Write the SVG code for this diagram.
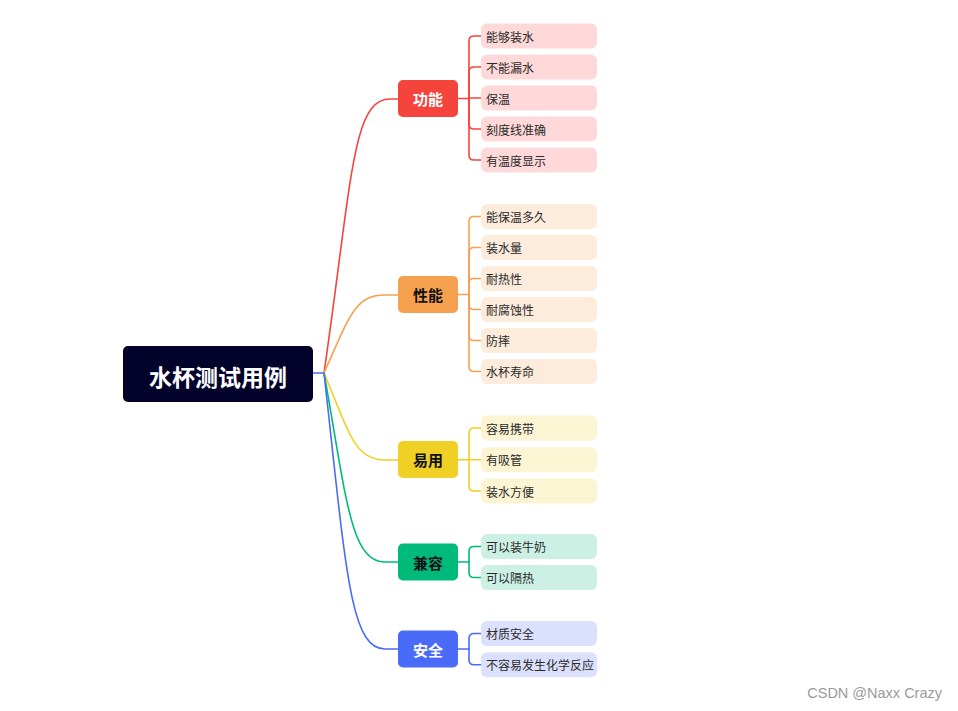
<svg xmlns="http://www.w3.org/2000/svg" width="958" height="711" viewBox="0 0 958 711">
<style>
  .cn{fill:none;stroke-width:1.6;stroke-linecap:round;stroke-linejoin:round}
  .root{fill:#02022b}
  .rt{font-family:"Noto Sans CJK SC","Noto Sans",sans-serif;font-weight:bold;font-size:23px;fill:#ffffff}
  .bt{font-family:"Noto Sans CJK SC","Noto Sans",sans-serif;font-weight:bold;font-size:15px}
  .lt{font-family:"Noto Sans CJK SC","Noto Sans",sans-serif;font-size:12px;fill:#2a2a2a}
  .wm{font-family:"Liberation Sans",Arial,sans-serif;font-size:14.5px;fill:#9a9a9a}
  .r{stroke:#f5443c}.o{stroke:#f6a14f}.y{stroke:#f0d024}.g{stroke:#00ba7b}.b{stroke:#4a6bf8}
</style>
<rect width="958" height="711" fill="#ffffff"/>
<g id="connectors">
  <path class="cn b" d="M313,373 H324"/>
  <path class="cn r" d="M324,373 C352,180 352,99 390,99 H398"/>
  <path class="cn o" d="M324,373 C350,315 355,295 385,295 H398"/>
  <path class="cn y" d="M324,373 C350,435 355,460 385,460 H398"/>
  <path class="cn g" d="M324,373 C346,495 350,562 385,562 H398"/>
  <path class="cn b" d="M324,373 C346,570 350,649 385,649 H398"/>
  <g class="cn r">
    <path d="M458,98.5 H469"/>
    <path d="M469,98.5 V41 Q469,36 474,36 H481"/>
    <path d="M469,98.5 V72 Q469,67 474,67 H481"/>
    <path d="M469,98 H481"/>
    <path d="M469,98.5 V124 Q469,129 474,129 H481"/>
    <path d="M469,98.5 V155 Q469,160 474,160 H481"/>
  </g>
  <g class="cn o">
    <path d="M458,294.5 H469"/>
    <path d="M469,294.5 V221.5 Q469,216.5 474,216.5 H481"/>
    <path d="M469,294.5 V252.5 Q469,247.5 474,247.5 H481"/>
    <path d="M469,294.5 V283.5 Q469,278.5 474,278.5 H481"/>
    <path d="M469,294.5 V304.5 Q469,309.5 474,309.5 H481"/>
    <path d="M469,294.5 V335.5 Q469,340.5 474,340.5 H481"/>
    <path d="M469,294.5 V366.5 Q469,371.5 474,371.5 H481"/>
  </g>
  <g class="cn y">
    <path d="M458,459.7 H469"/>
    <path d="M469,459.7 V433 Q469,428 474,428 H481"/>
    <path d="M469,459.7 H481"/>
    <path d="M469,459.7 V486 Q469,491 474,491 H481"/>
  </g>
  <g class="cn g">
    <path d="M458,562 H469"/>
    <path d="M469,562 V551.5 Q469,546.5 474,546.5 H481"/>
    <path d="M469,562 V572.5 Q469,577.5 474,577.5 H481"/>
  </g>
  <g class="cn b">
    <path d="M458,649 H469"/>
    <path d="M469,649 V638.5 Q469,633.5 474,633.5 H481"/>
    <path d="M469,649 V659.8 Q469,664.8 474,664.8 H481"/>
  </g>
</g>
<g id="root">
  <rect class="root" x="123" y="346" width="190" height="56" rx="5"/>
  <text class="rt" x="218" y="376" text-anchor="middle" dominant-baseline="central">水杯测试用例</text>
</g>
<g id="b-gongneng">
  <rect x="398" y="80" width="60" height="37" rx="5" fill="#f5443c"/>
  <text class="bt" x="428" y="98.5" text-anchor="middle" dominant-baseline="central" fill="#ffffff">功能</text>
</g>
<g id="b-xingneng">
  <rect x="398" y="276" width="60" height="37" rx="5" fill="#f6a14f"/>
  <text class="bt" x="428" y="294.5" text-anchor="middle" dominant-baseline="central" fill="#111111">性能</text>
</g>
<g id="b-yiyong">
  <rect x="398" y="441" width="60" height="37" rx="5" fill="#f0d024"/>
  <text class="bt" x="428" y="459.7" text-anchor="middle" dominant-baseline="central" fill="#111111">易用</text>
</g>
<g id="b-jianrong">
  <rect x="398" y="543.5" width="60" height="37" rx="5" fill="#00ba7b"/>
  <text class="bt" x="428" y="562" text-anchor="middle" dominant-baseline="central" fill="#111111">兼容</text>
</g>
<g id="b-anquan">
  <rect x="398" y="630.5" width="60" height="37" rx="5" fill="#4a6bf8"/>
  <text class="bt" x="428" y="649" text-anchor="middle" dominant-baseline="central" fill="#ffffff">安全</text>
</g>
<g id="leaves-gongneng" fill="#ffd9d9">
  <g id="l1"><rect x="481" y="23.5" width="116" height="25" rx="6"/><text class="lt" x="486" y="36" dominant-baseline="central">能够装水</text></g>
  <g id="l2"><rect x="481" y="54.5" width="116" height="25" rx="6"/><text class="lt" x="486" y="67" dominant-baseline="central">不能漏水</text></g>
  <g id="l3"><rect x="481" y="85.5" width="116" height="25" rx="6"/><text class="lt" x="486" y="98" dominant-baseline="central">保温</text></g>
  <g id="l4"><rect x="481" y="116.5" width="116" height="25" rx="6"/><text class="lt" x="486" y="129" dominant-baseline="central">刻度线准确</text></g>
  <g id="l5"><rect x="481" y="147.5" width="116" height="25" rx="6"/><text class="lt" x="486" y="160" dominant-baseline="central">有温度显示</text></g>
</g>
<g id="leaves-xingneng" fill="#fdebdc">
  <g id="l6"><rect x="481" y="204" width="116" height="25" rx="6"/><text class="lt" x="486" y="216.5" dominant-baseline="central">能保温多久</text></g>
  <g id="l7"><rect x="481" y="235" width="116" height="25" rx="6"/><text class="lt" x="486" y="247.5" dominant-baseline="central">装水量</text></g>
  <g id="l8"><rect x="481" y="266" width="116" height="25" rx="6"/><text class="lt" x="486" y="278.5" dominant-baseline="central">耐热性</text></g>
  <g id="l9"><rect x="481" y="297" width="116" height="25" rx="6"/><text class="lt" x="486" y="309.5" dominant-baseline="central">耐腐蚀性</text></g>
  <g id="l10"><rect x="481" y="328" width="116" height="25" rx="6"/><text class="lt" x="486" y="340.5" dominant-baseline="central">防摔</text></g>
  <g id="l11"><rect x="481" y="359" width="116" height="25" rx="6"/><text class="lt" x="486" y="371.5" dominant-baseline="central">水杯寿命</text></g>
</g>
<g id="leaves-yiyong" fill="#fcf5d3">
  <g id="l12"><rect x="481" y="415.5" width="116" height="25" rx="6"/><text class="lt" x="486" y="428" dominant-baseline="central">容易携带</text></g>
  <g id="l13"><rect x="481" y="447.2" width="116" height="25" rx="6"/><text class="lt" x="486" y="459.7" dominant-baseline="central">有吸管</text></g>
  <g id="l14"><rect x="481" y="478.5" width="116" height="25" rx="6"/><text class="lt" x="486" y="491" dominant-baseline="central">装水方便</text></g>
</g>
<g id="leaves-jianrong" fill="#ccf1e4">
  <g id="l15"><rect x="481" y="534" width="116" height="25" rx="6"/><text class="lt" x="486" y="546.5" dominant-baseline="central">可以装牛奶</text></g>
  <g id="l16"><rect x="481" y="565" width="116" height="25" rx="6"/><text class="lt" x="486" y="577.5" dominant-baseline="central">可以隔热</text></g>
</g>
<g id="leaves-anquan" fill="#dbe1fd">
  <g id="l17"><rect x="481" y="621" width="116" height="25" rx="6"/><text class="lt" x="486" y="633.5" dominant-baseline="central">材质安全</text></g>
  <g id="l18"><rect x="481" y="652.3" width="116" height="25" rx="6"/><text class="lt" x="486" y="664.8" dominant-baseline="central">不容易发生化学反应</text></g>
</g>
<text class="wm" x="942" y="698" text-anchor="end">CSDN @Naxx Crazy</text>
</svg>
